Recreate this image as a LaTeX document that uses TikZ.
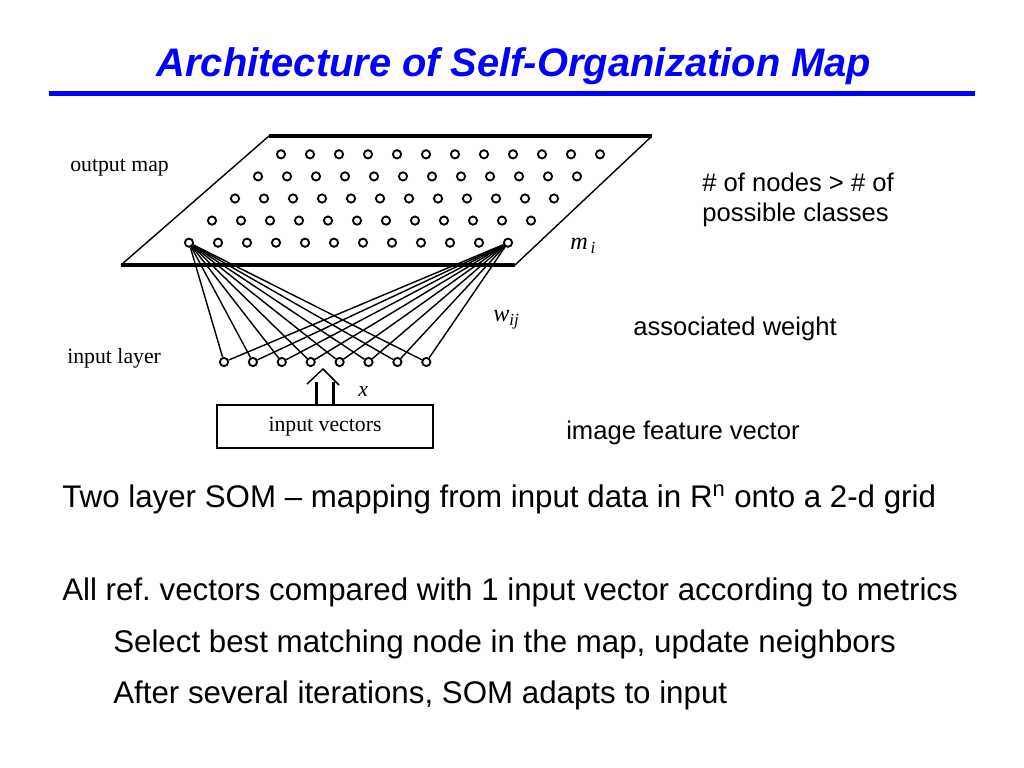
\documentclass[tikz,border=0pt]{standalone}
\usepackage{fontspec}
\setmainfont{Liberation Serif}
\newfontfamily\arialfont[Ligatures=TeX]{Liberation Sans}

\begin{document}
\begin{tikzpicture}[x=0.703125pt,y=-0.703125pt,
      title/.style={font=\arialfont\bfseries\itshape\fontsize{28}{32}\selectfont,text=blue,anchor=base,inner sep=0},
      note/.style={font=\arialfont\fontsize{18}{21}\selectfont,anchor=base west,inner sep=0},
      body/.style={font=\arialfont\fontsize{22}{26}\selectfont,anchor=base west,inner sep=0},
      lbl/.style={font=\fontsize{15.3}{18}\selectfont,anchor=base west,inner sep=0},
      dot/.style={circle,draw,line width=1.3pt,inner sep=0,minimum size=5.8pt},
      rim/.style={line width=2.2pt},
      side/.style={line width=1pt},
      wire/.style={line width=1pt},
      vecbox/.style={draw,line width=1.5pt,minimum width=152pt,minimum height=30pt,
        font=\fontsize{15.3}{18}\selectfont},
      shaft/.style={line width=2.3pt}]
      \useasboundingbox (0,0) rectangle (1024,768);
      % title
      \node[title] (ttl) at (514,77) {Architecture of Self-Organization Map};
      \draw[blue,line width=3.3pt] (49,93.3) -- (975,93.3);
      % output map plane
      \coordinate (ptl) at (269,136);
      \coordinate (ptr) at (652,136);
      \coordinate (pbr) at (515,265);
      \coordinate (pbl) at (121,265);
      \draw[rim] (ptl) -- (ptr);
      \draw[rim] (pbl) -- (pbr);
      \draw[side] (ptl) -- (pbl);
      \draw[side] (ptr) -- (pbr);
      \foreach \r in {0,...,4}
        \foreach \c in {0,...,11}
          \node[dot] (o\r-\c) at (281-23*\r+29*\c,154.3+22.1*\r) {};
      % input layer
      \foreach \k in {0,...,7}
        \node[dot] (i\k) at (224+28.9*\k,362) {};
      \foreach \k in {0,...,7} {
        \draw[wire] (o4-0) -- (i\k);
        \draw[wire] (o4-11) -- (i\k);
      }
      \node[vecbox] (vec) at (325,426.5) {input vectors};
      \draw[shaft] ([xshift=-6pt]vec.north) -- ++(0,-22);
      \draw[shaft] ([xshift=6pt]vec.north) -- ++(0,-22);
      \coordinate (tip) at (323,369);
      \draw[wire] (tip) ++(-16,15) -- (tip) -- ++(16,16);
      % labels
      \node[lbl] (lout) at (70,172) {output map};
      \node[lbl] (lin) at (67,363) {input layer};
      \node[lbl,font=\fontsize{17}{20}\selectfont] (lm) at (570,250) {\textit{m\textsubscript{\,i}}};
      \node[lbl,font=\fontsize{17}{20}\selectfont] (lw) at (493,322) {\textit{w\textsubscript{ij}}};
      \node[lbl] (lx) at (358,396) {\textit{x}};
      \node[note] (n1) at (702,192) {\# of nodes > \# of};
      \node[note] (n2) at (702,222) {possible classes};
      \node[note] (n3) at (633,336) {associated weight};
      \node[note] (n4) at (566,439) {image feature vector};
      % bottom text
      \node[body] (b1) at (62,507) {Two layer SOM \textendash{} mapping from input data in R\textsuperscript{n} onto a 2-d grid};
      \node[body] (b2) at (62,600) {All ref.\ vectors compared with 1 input vector according to metrics};
      \node[body] (b3) at (113,652) {Select best matching node in the map, update neighbors};
      \node[body] (b4) at (113,703) {After several iterations, SOM adapts to input};
    \end{tikzpicture}
\end{document}
